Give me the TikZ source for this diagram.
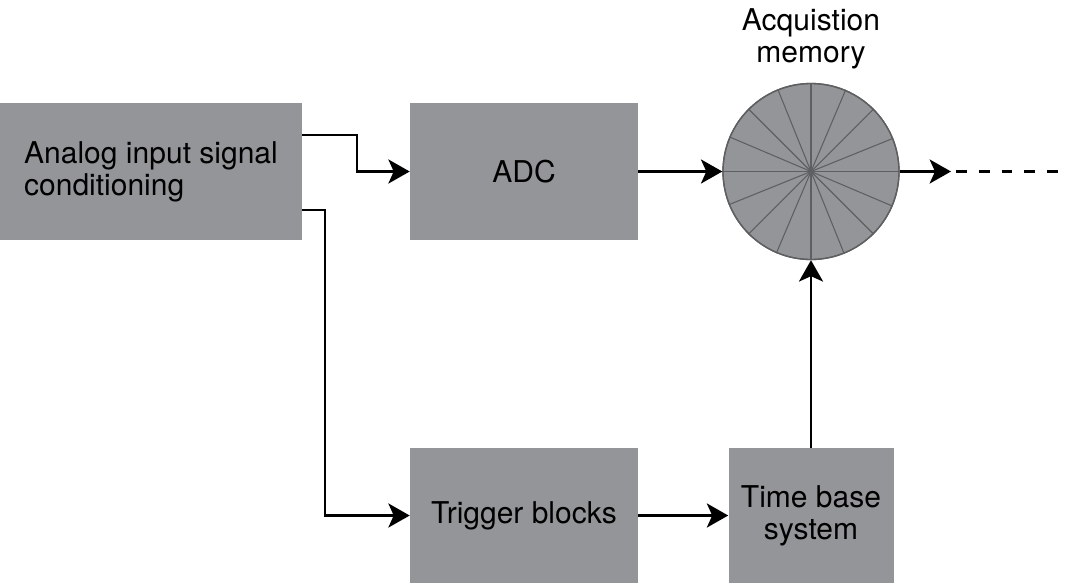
\documentclass[tikz,border=0pt]{standalone}
\usepackage{fontspec}
\setmainfont{TeX Gyre Heros}
\usepackage{tikz}
\usetikzlibrary{positioning,%
  arrows.meta,%
  calc
}
\definecolor{boxgray}{HTML}{939598}
\definecolor{spokegray}{HTML}{5E5F61}
\tikzset{
  block/.style={fill=boxgray, inner sep=0pt, minimum height=102.75pt, font=\fontsize{22.5}{24}\selectfont},
  line/.style={line width=2.2pt, -{Stealth[length=16pt, width=18pt, inset=4pt]}}
}

\begin{document}
\begin{tikzpicture}[x=0.75pt, y=-0.75pt]
            \useasboundingbox (0,0) rectangle (1065,583);

            \node [block, minimum width=226.5pt, align=left] (analog) at (151,171.5) {Analog input signal\\conditioning};
            \node [block, minimum width=171pt] (adc) at (524,171.5) {ADC};
            \node [block, minimum width=171pt, minimum height=101.25pt] (trig) at (524,515.5) {Trigger blocks};
            \node [block, minimum width=123.75pt, minimum height=101.25pt, align=center] (time) at (811,515.5) {Time base\\system};

            % acquisition memory
            \node [circle, draw=spokegray, line width=1pt, fill=boxgray, minimum size=132pt, inner sep=0pt] (mem) at (811,171.5) {};
            \foreach \a in {0,22.5,...,337.5}
              \draw [spokegray, line width=0.8pt] (mem.center) -- (mem.\a);
            \draw [spokegray, line width=1pt] (mem) circle (66pt);
            \node [font=\fontsize{22.5}{24}\selectfont, align=center, above=7pt of mem] (memlabel) {Acquistion\\memory};

            \coordinate (out) at (951,171.5);
            \coordinate (outend) at (1065,171.5);

            \draw [line] (analog.east |- 0,135) -- (357,135) |- (adc.west);
            \draw [line] (analog.east |- 0,210) -- (325,210) |- (trig.west);
            \draw [line] (adc.east) -- (mem.west);
            \draw [line] (mem.east) -- (out);
            \draw [line width=2.2pt, dash pattern=on 8pt off 9pt] ([xshift=4pt]out) -- (outend);
            \draw [line] (trig.east) -- (time.west);
            \draw [line] (time.north) -- (mem.south);
        \end{tikzpicture}
\end{document}
